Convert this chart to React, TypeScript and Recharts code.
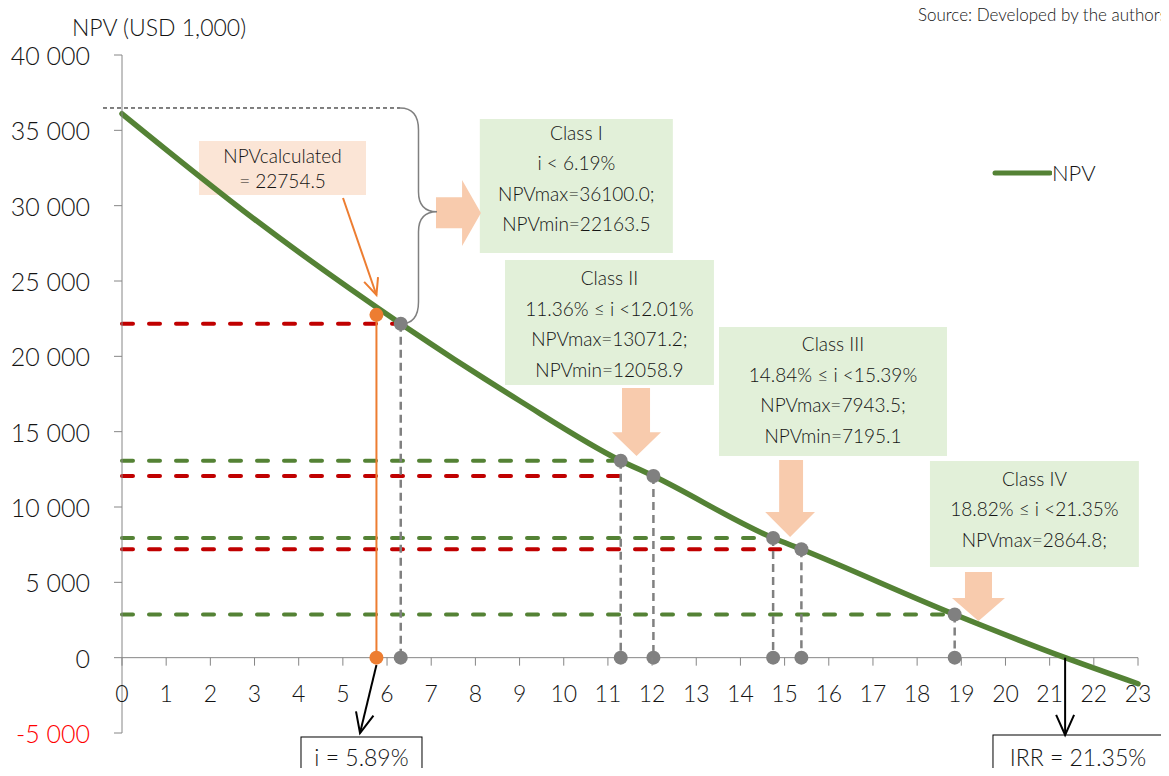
import React from 'react';
import { ComposedChart, Line, XAxis, YAxis, ReferenceLine, ReferenceDot, ReferenceArea, Legend } from 'recharts';

// NPV curve (discount rate, %; NPV, USD 1,000)
const rates = [0, 3, 6.31, 9, 11.29, 12.03, 14.74, 15.38, 18.85, 21.35, 23];
const npvValues = [36100, 29100, 22163.5, 17050, 13071.2, 12058.9, 7943.5, 7195.1, 2864.8, 0, -1730];
const data = rates.map((i, k) => ({ i, npv: npvValues[k] }));

// class boundary points on the curve
const classRates = [6.31, 11.29, 12.03, 14.74, 15.38, 18.85];
const classNpv = [22163.5, 13071.2, 12058.9, 7943.5, 7195.1, 2864.8];
const calcRate = 5.76;
const calcNpv = 22754.5;
const irr = 21.35;

const xTicks = [0, 1, 2, 3, 4, 5, 6, 7, 8, 9, 10, 11, 12, 13, 14, 15, 16, 17, 18, 19, 20, 21, 22, 23];
const yTicks = [-5000, 0, 5000, 10000, 15000, 20000, 25000, 30000, 35000, 40000];

const W = 1169;
const H = 776;
const X_AXIS_H = 43;
const M = { top: 55, right: 31, bottom: 0, left: 0 };
const Y_MIN = -5000;
const Y_MAX = 40000;
const zeroY = M.top + ((H - M.top - X_AXIS_H) * Y_MAX) / (Y_MAX - Y_MIN);

const GREEN = '#548235';
const RED = '#C00000';
const GREY = '#808080';
const ORANGE = '#ED7D31';
const PEACH = '#F8CBAD';
const AXIS = '#868686';
const INK = '#141414';

// horizontal guides: which class point, where the dashes stop, colour
const guides = [
  { k: 0, to: 6.31, color: RED },
  { k: 1, to: 11.29, color: GREEN },
  { k: 2, to: 11.6, color: RED },
  { k: 3, to: 14.74, color: GREEN },
  { k: 4, to: 14.9, color: RED },
  { k: 5, to: 18.85, color: GREEN },
];

const classBoxes = [
  { x1: 8.1, x2: 12.47, y1: 26859, y2: 35752, top: 13, lines: ['Class I', 'i < 6.19%', 'NPVmax=36100.0;', 'NPVmin=22163.5'] },
  { x1: 8.67, x2: 13.4, y1: 18098, y2: 26394, top: 18, lines: ['Class II', '11.36% ≤ i <12.01%', 'NPVmax=13071.2;', 'NPVmin=12058.9'] },
  { x1: 13.515, x2: 18.676, y1: 13385, y2: 21947, top: 17, lines: ['Class III', '14.84% ≤ i <15.39%', 'NPVmax=7943.5;', 'NPVmin=7195.1'] },
  { x1: 18.29, x2: 23.02, y1: 6018, y2: 13053, top: 17, lines: ['Class IV', '18.82% ≤ i <21.35%', 'NPVmax=2864.8;'] },
];

const downArrows = [
  { x1: 11.093, x2: 12.202, y1: 13385, y2: 17898, l: 0.204, r: 0.776, head: 0.65 },
  { x1: 14.561, x2: 15.688, y1: 8009, y2: 13120, l: 0.28, r: 0.76, head: 0.675 },
  { x1: 18.789, x2: 19.989, y1: 2434, y2: 5686, l: 0.245, r: 0.755, head: 0.53 },
];

const fmt = (v: number) => {
  const s = Math.abs(v).toString().replace(/\B(?=(\d{3})+(?!\d))/g, ' ');
  return (v < 0 ? '-' : '') + s;
};

const boxShape = (lines: string[], fill: string, top: number, gap: number, fontSize: number, stroke?: string) => (p: any) => (
  <g>
    <rect x={p.x} y={p.y} width={p.width} height={p.height} fill={fill} stroke={stroke || 'none'} strokeWidth={1} />
    {lines.map((t, k) => (
      <text key={k} x={p.x + p.width / 2} y={p.y + top + k * gap} textAnchor="middle" dominantBaseline="central" fontSize={fontSize} fontWeight={300} fill={INK}>
        {t}
      </text>
    ))}
  </g>
);

const downArrowShape = (l: number, r: number, head: number) => (p: any) => {
  const { x, y, width: w, height: h } = p;
  const pts = [
    [x + w * l, y], [x + w * r, y], [x + w * r, y + h * head], [x + w, y + h * head],
    [x + w / 2, y + h], [x, y + h * head], [x + w * l, y + h * head],
  ];
  return <polygon points={pts.map((q) => q.join(',')).join(' ')} fill={PEACH} />;
};

const rightArrowShape = (p: any) => {
  const { x, y, width: w, height: h } = p;
  const pts = [
    [x, y + h * 0.26], [x + w * 0.58, y + h * 0.26], [x + w * 0.58, y], [x + w, y + h / 2],
    [x + w * 0.58, y + h], [x + w * 0.58, y + h * 0.73], [x, y + h * 0.73],
  ];
  return <polygon points={pts.map((q) => q.join(',')).join(' ')} fill={PEACH} />;
};

const braceShape = (p: any) => {
  const { x, y, width: w, height: h } = p;
  const cx = x + w * 0.5;
  const mid = y + h * 0.48;
  const d = `M${x},${y} Q${cx},${y} ${cx},${y + 22} L${cx},${mid - 20} Q${cx},${mid} ${x + w},${mid} Q${cx},${mid} ${cx},${mid + 20} L${cx},${y + h - 22} Q${cx},${y + h} ${x},${y + h}`;
  return <path d={d} fill="none" stroke={GREY} strokeWidth={1.5} />;
};

const arrowShape = (color: string, width: number, head: number) => (p: any) => {
  const { x1, y1, x2, y2 } = p;
  const a = Math.atan2(y2 - y1, x2 - x1);
  const s = 0.42;
  const h1 = `${x2 - head * Math.cos(a - s)},${y2 - head * Math.sin(a - s)}`;
  const h2 = `${x2 - head * Math.cos(a + s)},${y2 - head * Math.sin(a + s)}`;
  return (
    <g>
      <line x1={x1} y1={y1} x2={x2} y2={y2} stroke={color} strokeWidth={width} />
      <polyline points={`${h1} ${x2},${y2} ${h2}`} fill="none" stroke={color} strokeWidth={width} />
    </g>
  );
};

const XTick = (p: any) => (
  <g>
    <line x1={p.x} x2={p.x} y1={zeroY} y2={zeroY + 8} stroke={AXIS} />
    <text x={p.x} y={zeroY + 35} textAnchor="middle" dominantBaseline="central" fontSize={23} fontWeight={300} fill={INK}>
      {p.payload.value}
    </text>
  </g>
);

const YTick = (p: any) => (
  <text x={p.x} y={p.y} textAnchor="end" dominantBaseline="central" fontSize={25} fontWeight={300} fill={p.payload.value < 0 ? '#FF0000' : INK}>
    {fmt(p.payload.value)}
  </text>
);

const LegendContent = () => (
  <div style={{ display: 'flex', alignItems: 'center', lineHeight: '26px' }}>
    <svg width={62} height={10}>
      <line x1={5} y1={5} x2={60} y2={5} stroke={GREEN} strokeWidth={5} strokeLinecap="round" />
    </svg>
    <span style={{ fontSize: 22, fontWeight: 300, color: INK }}>NPV</span>
  </div>
);

export default function App() {
  return (
    <div style={{ position: 'relative', width: W, height: H, margin: -8, overflow: 'hidden', fontFamily: 'Lato, sans-serif', background: '#fff' }}>
      <div style={{ position: 'absolute', left: 72, top: 12, fontSize: 23, fontWeight: 300, lineHeight: '30px', color: INK }}>NPV (USD 1,000)</div>
      <div style={{ position: 'absolute', left: 918, top: 5, fontSize: 17, fontWeight: 300, lineHeight: '20px', color: INK, whiteSpace: 'nowrap' }}>
        Source: Developed by the authors
      </div>
      <ComposedChart width={W} height={H} data={data} margin={M} style={{ fontFamily: 'Lato, sans-serif' }}>
        <XAxis type="number" dataKey="i" domain={[0, 23]} ticks={xTicks} interval={0} axisLine={false} tickLine={false} height={X_AXIS_H} tick={XTick} />
        <YAxis
          type="number"
          domain={[Y_MIN, Y_MAX]}
          ticks={yTicks}
          interval={0}
          width={122}
          axisLine={{ stroke: AXIS }}
          tickLine={{ stroke: AXIS }}
          tickSize={8}
          tickMargin={24}
          tick={YTick}
        />
        <Legend layout="vertical" align="center" verticalAlign="middle" wrapperStyle={{ left: 990, top: 160, width: 140 }} content={LegendContent} />

        <ReferenceLine y={0} stroke={AXIS} strokeWidth={1} ifOverflow="visible" />

        {classBoxes.map((b, k) => (
          <ReferenceArea key={`box${k}`} x1={b.x1} x2={b.x2} y1={b.y1} y2={b.y2} ifOverflow="visible" shape={boxShape(b.lines, '#E2F0D9', b.top, 30.5, 19)} />
        ))}
        <ReferenceArea x1={1.743} x2={5.524} y1={30708} y2={34292} ifOverflow="visible" shape={boxShape(['NPVcalculated', '= 22754.5'], '#FBE5D6', 14, 25, 19)} />
        <ReferenceArea x1={4.052} x2={6.791} y1={-9447} y2={-5265} ifOverflow="visible" shape={boxShape(['i = 5.89%'], '#FFFFFF', 20, 0, 23, '#000')} />
        <ReferenceArea x1={19.717} x2={23.566} y1={-9447} y2={-5133} ifOverflow="visible" shape={boxShape(['IRR = 21.35%'], '#FFFFFF', 22, 0, 23, '#000')} />

        <ReferenceArea x1={7.108} x2={8.126} y1={27323} y2={31704} ifOverflow="visible" shape={rightArrowShape} />
        {downArrows.map((a, k) => (
          <ReferenceArea key={`arr${k}`} x1={a.x1} x2={a.x2} y1={a.y1} y2={a.y2} ifOverflow="visible" shape={downArrowShape(a.l, a.r, a.head)} />
        ))}
        <ReferenceArea x1={6.293} x2={7.131} y1={22146} y2={36483} ifOverflow="visible" shape={braceShape} />

        <ReferenceLine segment={[{ x: -0.43, y: 36483 }, { x: 6.293, y: 36483 }]} stroke="#000" strokeWidth={1} strokeDasharray="4 3" ifOverflow="visible" />

        {guides.map((g, k) => (
          <ReferenceLine
            key={`g${k}`}
            segment={[{ x: 0, y: classNpv[g.k] }, { x: g.to, y: classNpv[g.k] }]}
            stroke={g.color}
            strokeWidth={4}
            strokeDasharray="11 16"
            strokeLinecap="round"
            ifOverflow="visible"
          />
        ))}
        {classRates.map((r, k) => (
          <ReferenceLine key={`v${k}`} segment={[{ x: r, y: classNpv[k] }, { x: r, y: 0 }]} stroke={GREY} strokeWidth={2.5} strokeDasharray="8 5" ifOverflow="visible" />
        ))}
        <ReferenceLine segment={[{ x: calcRate, y: calcNpv }, { x: calcRate, y: 0 }]} stroke={ORANGE} strokeWidth={2} ifOverflow="visible" />

        <Line type="monotone" dataKey="npv" name="NPV" stroke={GREEN} strokeWidth={5.5} strokeLinecap="round" dot={false} activeDot={false} isAnimationActive={false} />

        <ReferenceLine segment={[{ x: 5.003, y: 30509 }, { x: calcRate, y: 24070 }]} ifOverflow="visible" shape={arrowShape(ORANGE, 2, 18)} />
        <ReferenceLine segment={[{ x: calcRate, y: -487 }, { x: 5.388, y: -5000 }]} ifOverflow="visible" shape={arrowShape('#000', 2, 22)} />
        <ReferenceLine segment={[{ x: irr, y: 0 }, { x: irr, y: -5133 }]} ifOverflow="visible" shape={arrowShape('#000', 2, 22)} />

        {classRates.map((r, k) => (
          <ReferenceDot key={`d${k}`} x={r} y={classNpv[k]} r={7} fill={GREY} stroke="none" ifOverflow="visible" />
        ))}
        {classRates.map((r, k) => (
          <ReferenceDot key={`z${k}`} x={r} y={0} r={7} fill={GREY} stroke="none" ifOverflow="visible" />
        ))}
        <ReferenceDot x={calcRate} y={calcNpv} r={7} fill={ORANGE} stroke="none" ifOverflow="visible" />
        <ReferenceDot x={calcRate} y={0} r={7} fill={ORANGE} stroke="none" ifOverflow="visible" />
      </ComposedChart>
    </div>
  );
}
